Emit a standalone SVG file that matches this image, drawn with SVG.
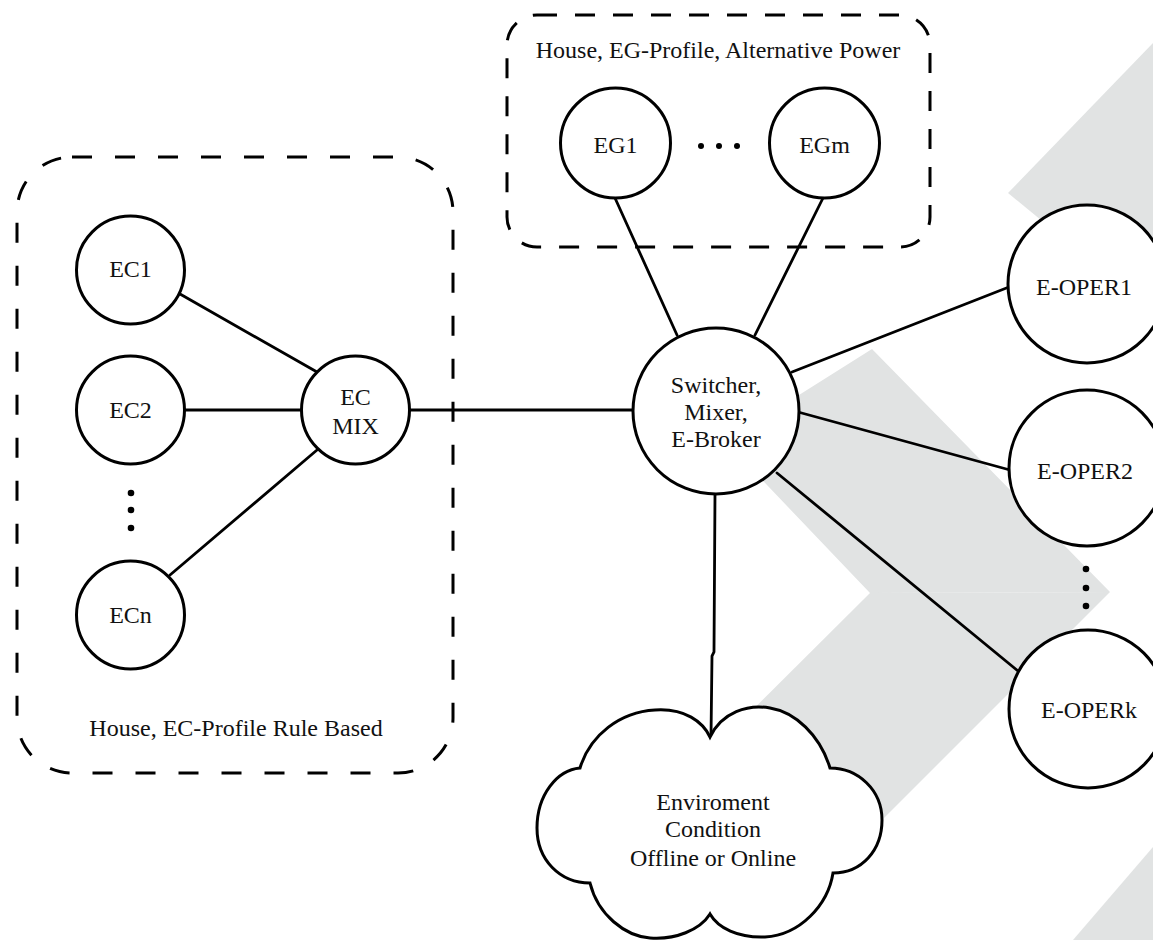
<svg xmlns="http://www.w3.org/2000/svg" width="1153" height="940" viewBox="0 0 1153 940">
  <style>
    .bg { fill: #e1e3e3; stroke: none; }
    .node { fill: #ffffff; stroke: #000000; stroke-width: 3; }
    .conn { fill: none; stroke: #000000; stroke-width: 2.8; stroke-linecap: round; }
    .group { fill: none; stroke: #000000; stroke-width: 3; }
    .dot { fill: #000000; }
    text { font-family: "Liberation Serif", "Times New Roman", serif; font-size: 24px; fill: #111111; text-anchor: middle; }
  </style>
  <rect x="0" y="0" width="1153" height="940" fill="#ffffff"/>
  <g id="background">
    <polygon class="bg" points="872,349 1110,592 870,593 725,441 799,395"/>
    <polygon class="bg" points="1110,592 766,936 646,816 870,593"/>
    <polygon class="bg" points="1008,193 1153,43 1153,312"/>
    <polygon class="bg" points="1073,940 1153,847 1153,940"/>
  </g>
  <g id="groups">
    <g id="group-ec">
      <rect class="group" x="17" y="157" width="436" height="616" rx="55" ry="55" stroke-dasharray="20 23"/>
      <text x="236" y="736">House, EC-Profile Rule Based</text>
    </g>
    <g id="group-eg">
      <rect class="group" x="507" y="15" width="423" height="232" rx="30" ry="30" stroke-dasharray="20 18"/>
      <text x="718" y="58">House, EG-Profile, Alternative Power</text>
    </g>
  </g>
  <g id="connectors">
    <line class="conn" x1="180" y1="294" x2="317" y2="372"/>
    <line class="conn" x1="185" y1="410" x2="302" y2="410"/>
    <line class="conn" x1="170" y1="575" x2="317" y2="450"/>
    <line class="conn" x1="409" y1="410" x2="634" y2="410"/>
    <line class="conn" x1="615" y1="198" x2="677" y2="335"/>
    <line class="conn" x1="823" y1="198" x2="755" y2="335"/>
    <line class="conn" x1="792" y1="372" x2="1009" y2="287"/>
    <line class="conn" x1="798" y1="412" x2="1010" y2="470"/>
    <line class="conn" x1="777" y1="473" x2="1018" y2="671"/>
    <path class="conn" d="M715,494 L714,652 L712,656 L711,737"/>
  </g>
  <g id="ellipsis">
    <circle class="dot" cx="701" cy="146" r="3"/>
    <circle class="dot" cx="719" cy="146" r="3"/>
    <circle class="dot" cx="737" cy="146" r="3"/>
    <circle class="dot" cx="131" cy="493" r="3.3"/>
    <circle class="dot" cx="131" cy="510" r="3.3"/>
    <circle class="dot" cx="131" cy="528" r="3.3"/>
    <circle class="dot" cx="1086" cy="569" r="3.3"/>
    <circle class="dot" cx="1086" cy="588" r="3.3"/>
    <circle class="dot" cx="1086" cy="606" r="3.3"/>
  </g>
  <g id="EC1">
    <circle class="node" cx="130.5" cy="270" r="54"/>
    <text x="130.5" y="277">EC1</text>
  </g>
  <g id="EC2">
    <circle class="node" cx="130.5" cy="410" r="54"/>
    <text x="130.5" y="418">EC2</text>
  </g>
  <g id="ECn">
    <circle class="node" cx="130.5" cy="615" r="54"/>
    <text x="130.5" y="623">ECn</text>
  </g>
  <g id="ECMIX">
    <circle class="node" cx="355.5" cy="410" r="54"/>
    <text x="355.5" y="405">EC</text>
    <text x="355.5" y="434">MIX</text>
  </g>
  <g id="EG1">
    <circle class="node" cx="615.5" cy="143" r="55"/>
    <text x="615.5" y="153">EG1</text>
  </g>
  <g id="EGm">
    <circle class="node" cx="824.5" cy="143" r="55"/>
    <text x="824.5" y="153">EGm</text>
  </g>
  <g id="Switcher">
    <circle class="node" cx="716" cy="411" r="83"/>
    <text x="716" y="393">Switcher,</text>
    <text x="716" y="420">Mixer,</text>
    <text x="716" y="447">E-Broker</text>
  </g>
  <g id="EOPER1">
    <circle class="node" cx="1087" cy="284" r="79"/>
    <text x="1084" y="295">E-OPER1</text>
  </g>
  <g id="EOPER2">
    <circle class="node" cx="1087" cy="468" r="78"/>
    <text x="1085" y="479">E-OPER2</text>
  </g>
  <g id="EOPERk">
    <circle class="node" cx="1088" cy="709" r="79"/>
    <text x="1089" y="718">E-OPERk</text>
  </g>
  <g id="Environment">
    <path class="node" d="M710,737 C722,712 748,704 770,708 C795,712 820,735 830,768 C858,768 882,790 882,820 C882,850 862,873 833,873 C828,905 800,935 765,937 C738,938 718,928 710,914 C700,930 675,940 650,938 C625,936 598,915 590,883 C560,883 537,860 537,828 C537,795 557,770 580,768 C590,735 620,712 655,710 C685,708 703,722 710,737 Z"/>
    <text x="713" y="810">Enviroment</text>
    <text x="713" y="837">Condition</text>
    <text x="713" y="866">Offline or Online</text>
  </g>
</svg>
